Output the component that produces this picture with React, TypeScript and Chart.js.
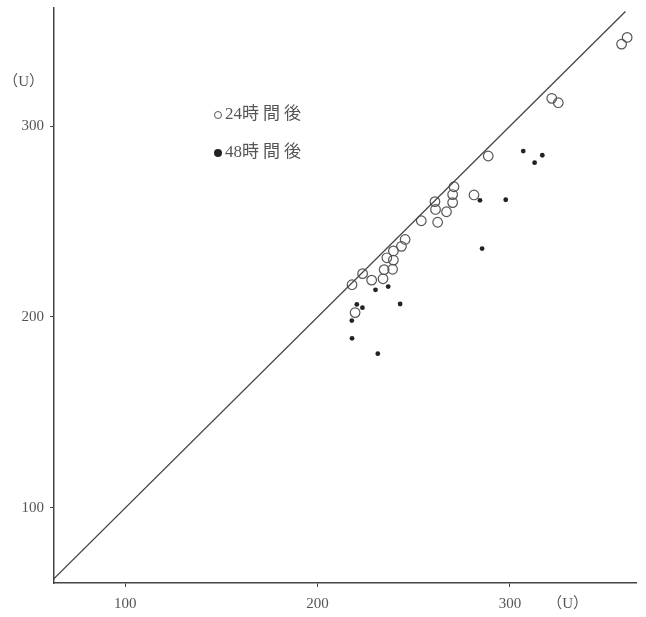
import React, { useEffect, useRef } from 'react';
import { Chart, registerables } from 'chart.js';

Chart.register(...registerables);

// 24時間後 (open circles)
const after24X = [360.9, 358.0, 321.7, 325.1, 288.7, 281.3, 270.9, 270.2, 270.2, 261.0, 261.3, 267.0, 262.4, 253.9, 245.5, 243.6, 239.4, 236.0, 239.4, 234.6, 239.0, 234.0, 228.1, 223.4, 217.9, 219.5];
const after24Y = [346.4, 342.9, 314.5, 312.2, 284.3, 263.9, 268.2, 264.1, 259.9, 260.4, 256.3, 255.1, 249.6, 250.4, 240.6, 237.0, 234.6, 231.0, 229.8, 224.8, 225.0, 220.0, 219.3, 222.7, 216.9, 202.3];

// 48時間後 (filled dots)
const after48X = [306.9, 316.8, 312.8, 284.4, 297.8, 285.5, 230.1, 236.7, 242.9, 220.4, 223.3, 217.8, 217.9, 231.3];
const after48Y = [286.9, 284.7, 280.8, 261.1, 261.4, 235.8, 214.2, 215.9, 206.8, 206.6, 204.9, 198.1, 188.8, 180.8];

const xTicks = [100, 200, 300];
const yTicks = [100, 200, 300];
const xUnitAt = 330;
const yUnitAt = 323;
const unitLabel = '（U）';
const legendLabels = ['24時間後', '48時間後'];
const identityLine = [62, 360];

const INK = '#444';
const TEXT = '#555';
const SERIF = '"Liberation Serif", "DejaVu Serif", "Noto Sans CJK JP", serif';

const legendPlugin = {
  id: 'innerLegend',
  afterDatasetsDraw(chart: any) {
    const { ctx } = chart;
    ctx.save();
    const rows = [
      { y: 115, filled: false, label: legendLabels[0] },
      { y: 153, filled: true, label: legendLabels[1] },
    ];
    for (const r of rows) {
      ctx.beginPath();
      ctx.arc(218, r.y, r.filled ? 4 : 3.5, 0, Math.PI * 2);
      if (r.filled) {
        ctx.fillStyle = '#222';
        ctx.fill();
      } else {
        ctx.strokeStyle = TEXT;
        ctx.lineWidth = 1;
        ctx.stroke();
      }
      ctx.fillStyle = TEXT;
      ctx.font = '17px ' + SERIF;
      ctx.textBaseline = 'middle';
      ctx.textAlign = 'left';
      let x = 225;
      for (const ch of Array.from(r.label)) {
        ctx.fillText(ch, x, r.y);
        const w = ctx.measureText(ch).width;
        x += /[0-9]/.test(ch) ? w : w + 4;
      }
    }
    ctx.restore();
  },
};

export default function App() {
  const ref = useRef<HTMLCanvasElement>(null);

  useEffect(() => {
    if (!ref.current) return;
    const chart = new Chart(ref.current, {
      type: 'scatter',
      data: {
        datasets: [
          {
            label: 'y=x',
            data: identityLine.map((v) => ({ x: v, y: v })),
            showLine: true,
            borderColor: INK,
            borderWidth: 1.3,
            pointRadius: 0,
          },
          {
            label: legendLabels[0],
            data: after24X.map((x, i) => ({ x, y: after24Y[i] })),
            pointStyle: 'circle',
            pointRadius: 4.8,
            borderColor: '#555',
            borderWidth: 1.2,
            backgroundColor: 'rgba(0,0,0,0)',
          },
          {
            label: legendLabels[1],
            data: after48X.map((x, i) => ({ x, y: after48Y[i] })),
            pointStyle: 'circle',
            pointRadius: 2.4,
            borderWidth: 0,
            backgroundColor: '#222',
          },
        ],
      },
      options: {
        responsive: false,
        animation: false,
        layout: { padding: { top: 8, right: 10, left: 0, bottom: 0 } },
        plugins: { legend: { display: false }, tooltip: { enabled: false } },
        scales: {
          x: {
            type: 'linear',
            min: 63,
            max: 365.5,
            afterBuildTicks: (scale: any) => {
              scale.ticks = [...xTicks, xUnitAt].map((v) => ({ value: v }));
            },
            afterFit: (scale: any) => {
              scale.height = 34;
              scale.paddingLeft = 0;
              scale.paddingRight = 0;
            },
            border: { display: true, color: INK, width: 1.5 },
            grid: {
              drawOnChartArea: false,
              drawTicks: true,
              tickLength: 4,
              tickColor: (c: any) => (c.tick && c.tick.value === xUnitAt ? 'rgba(0,0,0,0)' : INK),
            },
            ticks: {
              autoSkip: false,
              maxRotation: 0,
              padding: 8,
              color: TEXT,
              font: { family: SERIF, size: 15 },
              callback: (v: any) => (v === xUnitAt ? unitLabel : String(v)),
            },
          },
          y: {
            type: 'linear',
            min: 60.7,
            max: 361.8,
            afterBuildTicks: (scale: any) => {
              scale.ticks = [...yTicks, yUnitAt].map((v) => ({ value: v }));
            },
            afterFit: (scale: any) => {
              scale.width = 54;
              scale.paddingTop = 0;
              scale.paddingBottom = 0;
            },
            border: { display: true, color: INK, width: 1.5 },
            grid: {
              drawOnChartArea: false,
              drawTicks: true,
              tickLength: 4,
              tickColor: (c: any) => (c.tick && c.tick.value === yUnitAt ? 'rgba(0,0,0,0)' : INK),
            },
            ticks: {
              autoSkip: false,
              padding: 6,
              color: TEXT,
              font: { family: SERIF, size: 15 },
              callback: (v: any) => (v === yUnitAt ? unitLabel : String(v)),
            },
          },
        },
      },
      plugins: [legendPlugin],
    });
    return () => chart.destroy();
  }, []);

  return (
    <div style={{ position: 'fixed', left: 0, top: 0, width: 646, height: 617, background: '#fff' }}>
      <canvas ref={ref} width={646} height={617} style={{ width: 646, height: 617, display: 'block' }} />
    </div>
  );
}
